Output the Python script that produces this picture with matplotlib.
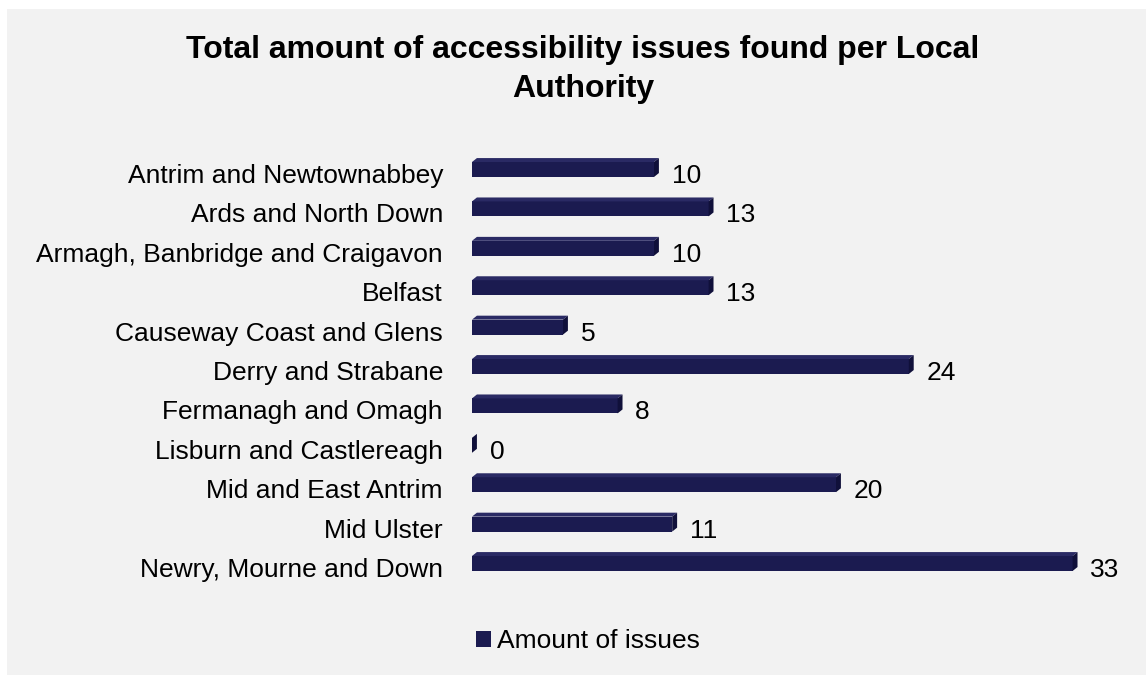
import matplotlib
matplotlib.use('Agg')
import matplotlib.pyplot as plt
from matplotlib.patches import Polygon, Rectangle

plt.rcParams['font.family'] = ['Liberation Sans', 'DejaVu Sans']

# Data
authorities = ['Antrim and Newtownabbey', 'Ards and North Down', 'Armagh, Banbridge and Craigavon',
               'Belfast', 'Causeway Coast and Glens', 'Derry and Strabane', 'Fermanagh and Omagh',
               'Lisburn and Castlereagh', 'Mid and East Antrim', 'Mid Ulster', 'Newry, Mourne and Down']
issues = [10, 13, 10, 13, 5, 24, 8, 0, 20, 11, 33]
title_lines = ['Total amount of accessibility issues found per Local', 'Authority']

front_col = '#1b1b50'
top_col = '#2a2a64'
side_col = '#10103a'

W, H = 1146, 675
fig = plt.figure(figsize=(W / 100, H / 100), dpi=100, facecolor='white')

# grey panel behind everything
fig.patches.append(Rectangle((7 / W, 0), 1, 1 - 9 / H, transform=fig.transFigure,
                             facecolor='#f2f2f2', edgecolor='none', zorder=-1))

ax = fig.add_axes([472 / W, 91.8 / H, 648 / W, 433.4 / H])
ax.set_facecolor('none')

xmax = 648 / 18.2
ax.set_xlim(0, xmax)
ax.set_ylim(10.5, -0.5)

h = 0.38   # front face height
dx = 0.27  # depth in x
dy = 0.10  # depth in y

pos = list(range(len(authorities)))
ax.barh(pos, issues, height=h, color=front_col, label='Amount of issues', zorder=3)

for i, v in zip(pos, issues):
    top = i - h / 2
    bot = i + h / 2
    # top face
    ax.add_patch(Polygon([(0, top), (v, top), (v + dx, top - dy), (dx, top - dy)],
                         closed=True, facecolor=top_col, edgecolor='none', zorder=3))
    # right side face
    ax.add_patch(Polygon([(v, top), (v, bot), (v + dx, bot - dy), (v + dx, top - dy)],
                         closed=True, facecolor=side_col, edgecolor='none', zorder=3))
    # value label
    ax.text(v + dx + 0.7, i + 0.343, str(v), fontsize=19, ha='left', va='baseline', color='black')
    # category label
    ax.text(-29 / 648, i + 0.343, authorities[i], fontsize=19, ha='right', va='baseline',
            color='black', transform=ax.get_yaxis_transform())

ax.set_xticks([])
ax.set_yticks([])
for s in ax.spines.values():
    s.set_visible(False)

# two-line title
for line, base in zip(title_lines, [58, 97]):
    fig.text(583 / W, 1 - base / H, line, fontsize=23, fontweight='bold',
             ha='center', va='baseline')

fig.legend(loc='center', bbox_to_anchor=(588 / W, 1 - 641 / H), frameon=False, fontsize=19,
           handlelength=0.55, handleheight=0.55, handletextpad=0.25)

fig.savefig('out.png', dpi=100, facecolor=fig.get_facecolor())
